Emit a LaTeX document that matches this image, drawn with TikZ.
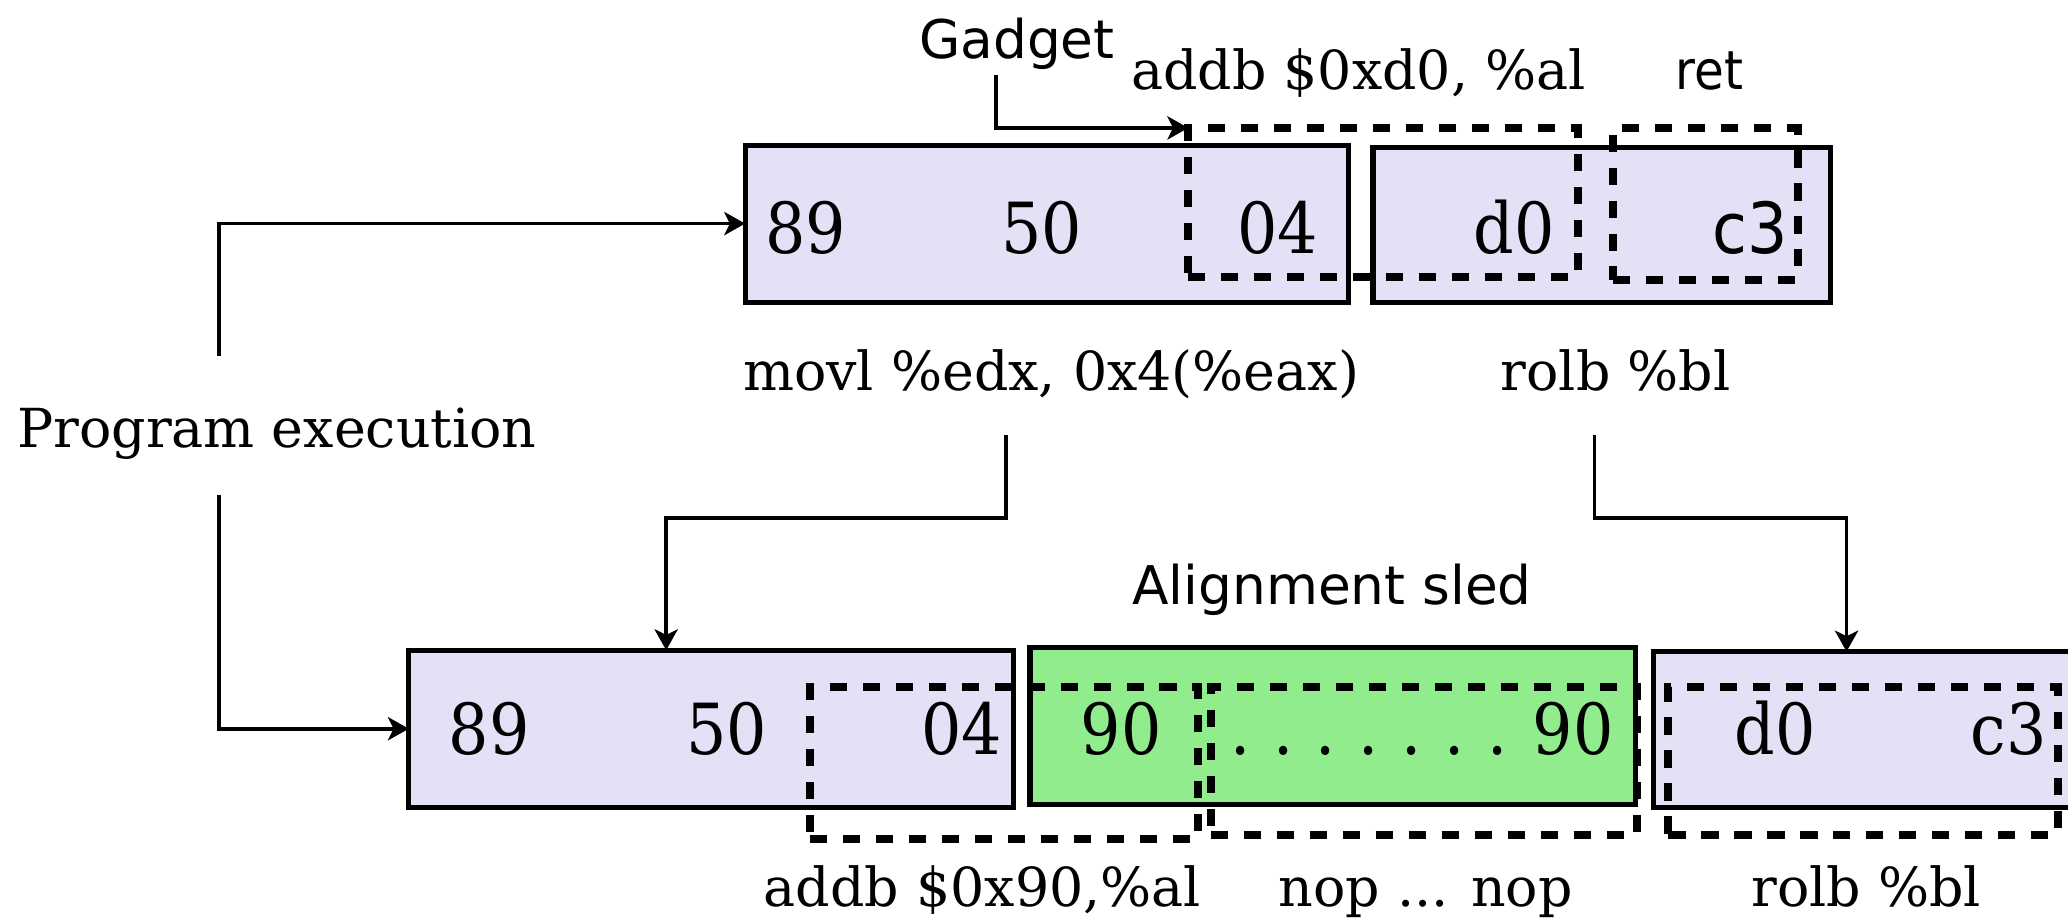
\documentclass[tikz,border=0pt]{standalone}
\usepackage{fontspec}
\setmainfont{DejaVu Serif}
\setsansfont{DejaVu Sans}
\newfontfamily\digserif[FakeStretch=0.9]{DejaVu Serif}
\newfontfamily\digsans[FakeStretch=0.9]{DejaVu Sans}
\usetikzlibrary{arrows.meta}
\definecolor{lav}{RGB}{228,225,247}
\definecolor{sled}{RGB}{144,236,140}
\begin{document}
\begin{tikzpicture}[x=0.01cm,y=-0.01cm,
  bytebox/.style={draw=black,line width=1.1pt,anchor=north west,inner sep=0pt,outer sep=0pt},
  dig/.style={anchor=base,inner sep=0pt,font=\digserif\fontsize{15.2}{18}\selectfont},
  digs/.style={anchor=base,inner sep=0pt,font=\digsans\fontsize{15.2}{18}\selectfont},
  lbl/.style={anchor=base,inner sep=0pt,font=\fontsize{11.6}{14}\selectfont},
  slbl/.style={anchor=base,inner sep=0pt,font=\sffamily\fontsize{11.5}{14}\selectfont},
  clbl/.style={anchor=base,inner sep=0pt,font=\digsans\fontsize{11.6}{14}\selectfont},
  gad/.style={draw=black,line width=1.7pt,dash pattern=on 0.13cm off 0.12cm,anchor=north west,inner sep=0pt,outer sep=0pt},
  arr/.style={line width=0.8pt,-{Stealth[length=4.5pt,width=5pt,inset=1.2pt]}}
]
\useasboundingbox (0,0) rectangle (1568,697);
% byte boxes
\node[bytebox,fill=lav,minimum width=4.57cm,minimum height=1.19cm] (T1) at (565,110) {};
\node[bytebox,fill=lav,minimum width=3.47cm,minimum height=1.17cm] (T2) at (1041,112) {};
\node[bytebox,fill=lav,minimum width=4.58cm,minimum height=1.19cm] (B1) at (310,493) {};
\node[bytebox,fill=sled,minimum width=4.59cm,minimum height=1.19cm] (B2) at (781,491) {};
\node[bytebox,fill=lav,minimum width=4.2cm,minimum height=1.18cm] (B3) at (1254,494) {};
% top bytes
\node[dig] (t89) at (611,192) {89};
\node[dig] (t50) at (790,192) {50};
\node[dig] (t04) at (969,192) {04};
\node[dig] (td0) at (1148,192) {d0};
\node[digs] (tc3) at (1327,192) {c3};
% bottom bytes
\node[dig] (b89) at (371,572) {89};
\node[dig] (b50) at (551,572) {50};
\node[dig] (b04) at (729,572) {04};
\node[dig] (b90) at (850,572) {90};
\node[dig,anchor=base east] (bdots) at (1224,572) {.\hspace{1.72mm}.\hspace{1.72mm}.\hspace{1.72mm}.\hspace{1.72mm}.\hspace{1.72mm}.\hspace{1.72mm}.\hspace{1.9mm}90};
\node[dig] (bd0) at (1346,572) {d0};
\node[dig] (bc3) at (1523,572) {c3};
% dashed instruction frames
\node[gad,minimum width=2.95cm,minimum height=1.13cm] (D1) at (901,97) {};
\node[gad,minimum width=1.40cm,minimum height=1.15cm] (D2) at (1223,97) {};
\node[gad,minimum width=2.94cm,minimum height=1.15cm] (D3) at (614,521) {};
\node[gad,minimum width=3.23cm,minimum height=1.12cm] (D4) at (918,521) {};
\node[gad,minimum width=2.95cm,minimum height=1.12cm] (D5) at (1265,521) {};
% labels
\node[slbl] (gadget) at (771,44) {Gadget};
\node[lbl] (laddd0) at (1030,68) {addb \$0xd0, \%al};
\node[clbl] (lret) at (1296,68) {ret};
\node[lbl] (lmovl) at (797,296) {movl \%edx, 0x4(\%eax)};
\node[lbl] (lrolb) at (1225,296) {rolb \%bl};
\node[lbl] (prog) at (210,339) {Program execution};
\node[slbl] (sled) at (1010,458) {Alignment sled};
\node[lbl] (ladd90) at (745,687) {addb \$0x90,\%al};
\node[lbl] (lnop) at (1081,687) {nop ... nop};
\node[lbl] (lrolb2) at (1415,687) {rolb \%bl};
% connectors
\coordinate (pe1) at (166,270);
\coordinate (pe2) at (166,375);
\coordinate (mv) at (763,330);
\coordinate (rb) at (1209,330);
\coordinate (gd) at (755,57);
\draw[arr] (pe1) |- (T1.west);
\draw[arr] (pe2) |- (B1.west);
\draw[arr] (mv) -- ++(0,63) -| ([xshift=1.95cm]B1.north west);
\draw[arr] (rb) -- ++(0,63) -| ([xshift=1.46cm]B3.north west);
\draw[arr] (gd) |- (D1.north west);
\end{tikzpicture}
\end{document}
